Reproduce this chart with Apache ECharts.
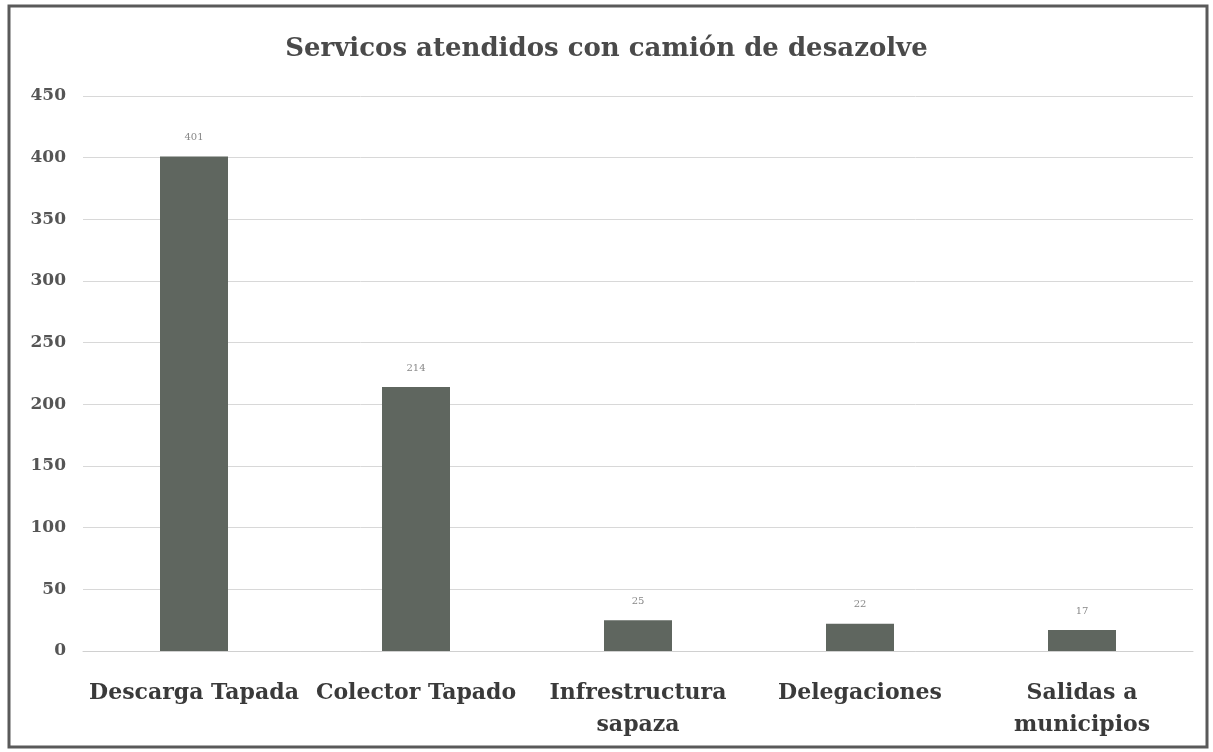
<!DOCTYPE html>
<html>
<head>
<meta charset="utf-8">
<script src="https://cdn.jsdelivr.net/npm/echarts@6/dist/echarts.min.js"></script>
<style>
  html, body { margin: 0; padding: 0; background: #fff; }
  #main { width: 1213px; height: 752px; }
</style>
</head>
<body>
<div id="main"></div>
<script>
// datos del grafico
var categorias = ['Descarga Tapada', 'Colector Tapado', 'Infrestructura\nsapaza', 'Delegaciones', 'Salidas a\nmunicipios'];
var servicios = [401, 214, 25, 22, 17];
var titulo = 'Servicos atendidos con camión de desazolve';

var chart = echarts.init(document.getElementById('main'));
var serif = '"DejaVu Serif", "Liberation Serif", serif';

chart.setOption({
  backgroundColor: '#ffffff',
  title: {
    text: titulo,
    left: 'center',
    top: 31,
    textStyle: { fontFamily: serif, fontSize: 26, fontWeight: 'bold', color: '#4a4a4a' }
  },
  graphic: [{
    type: 'rect',
    shape: { x: 9, y: 6, width: 1198, height: 741 },
    style: { fill: 'none', stroke: '#5a5a5a', lineWidth: 3 }
  }],
  grid: { left: 83, right: 20, top: 96, bottom: 101 },
  xAxis: {
    type: 'category',
    data: categorias,
    axisLine: { show: true, lineStyle: { color: '#d0d0d0' } },
    axisTick: { show: false },
    axisLabel: {
      interval: 0,
      margin: 26,
      fontFamily: serif,
      fontSize: 22,
      lineHeight: 32,
      fontWeight: 'bold',
      color: '#3a3a3a'
    }
  },
  yAxis: {
    type: 'value',
    min: 0,
    max: 450,
    interval: 50,
    axisLine: { show: false },
    axisTick: { show: false },
    splitLine: { lineStyle: { color: '#d8d8d8', width: 1 } },
    axisLabel: {
      margin: 17,
      fontFamily: serif,
      fontSize: 17,
      fontWeight: 'bold',
      color: '#555'
    }
  },
  series: [{
    type: 'bar',
    data: servicios,
    barWidth: 68,
    itemStyle: { color: '#5f665f' },
    label: {
      show: true,
      position: 'top',
      distance: 14,
      fontFamily: serif,
      fontSize: 10,
      color: '#888'
    }
  }]
});
</script>
</body>
</html>
